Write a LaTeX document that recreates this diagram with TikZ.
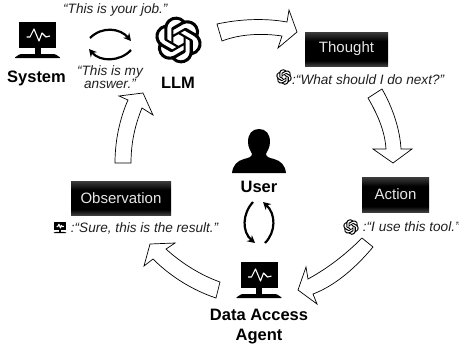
\documentclass[tikz,border=0pt]{standalone}
\usepackage{fontspec}
\setmainfont{Liberation Sans}
\usetikzlibrary{svg.path,arrows.meta}
\definecolor{boxedge}{gray}{0.24}
\definecolor{boxtext}{gray}{0.9}
\definecolor{saytext}{gray}{0.12}
\pgfdeclareverticalshading{boxshade}{100bp}{color(0bp)=(boxedge); color(25bp)=(boxedge); color(33bp)=(black); color(62bp)=(black); color(75bp)=(boxedge); color(100bp)=(boxedge)}
\newcommand{\logopath}{M22.2819 9.8211a5.9847 5.9847 0 0 0-.5157-4.9108 6.0462 6.0462 0 0 0-6.5098-2.9A6.0651 6.0651 0 0 0 4.9807 4.1818a5.9847 5.9847 0 0 0-3.9977 2.9 6.0462 6.0462 0 0 0 .7427 7.0966 5.98 5.98 0 0 0 .511 4.9107 6.051 6.051 0 0 0 6.5146 2.9001A5.9847 5.9847 0 0 0 13.2599 24a6.0557 6.0557 0 0 0 5.7718-4.2058 5.9894 5.9894 0 0 0 3.9977-2.9001 6.0557 6.0557 0 0 0-.7475-7.0729z M13.2599 22.4292a4.4755 4.4755 0 0 1-2.8764-1.0408l.1419-.0804 4.7783-2.7582a.7948.7948 0 0 0 .3927-.6813v-6.7369l2.02 1.1686a.071.071 0 0 1 .038.052v5.5826a4.504 4.504 0 0 1-4.4945 4.4944z M3.5992 18.3038a4.4708 4.4708 0 0 1-.5346-3.0137l.142.0852 4.783 2.7582a.7712.7712 0 0 0 .7806 0l5.8428-3.3685v2.3324a.0804.0804 0 0 1-.0332.0615L9.74 19.9502a4.4992 4.4992 0 0 1-6.1408-1.6464z M2.3408 7.8956a4.485 4.485 0 0 1 2.3655-1.9728V11.6a.7664.7664 0 0 0 .3879.6765l5.8144 3.3543-2.0201 1.1685a.0757.0757 0 0 1-.071 0l-4.8303-2.7865A4.504 4.504 0 0 1 2.3408 7.872z M18.9371 11.7514L13.1038 8.364 15.1192 7.2a.0757.0757 0 0 1 .071 0l4.8303 2.7913a4.4944 4.4944 0 0 1-.6765 8.1042v-5.6772a.79.79 0 0 0-.407-.667z M20.9478 8.7283l-.142-.0852-4.7735-2.7818a.7759.7759 0 0 0-.7854 0L9.409 9.2297V6.8974a.0662.0662 0 0 1 .0284-.0615l4.8303-2.7866a4.4992 4.4992 0 0 1 6.6802 4.66z M8.3065 12.863l-2.02-1.1638a.0804.0804 0 0 1-.038-.0567V6.0742a4.4992 4.4992 0 0 1 7.3757-3.4537l-.142.0805L8.704 5.459a.7948.7948 0 0 0-.3927.6813z M9.4041 10.4976l2.602-1.4998 2.6069 1.4998v2.9994l-2.5974 1.4997-2.6067-1.4997Z}
\newcommand{\drawlogo}[2]{%
  \begin{scope}[shift={#1},scale=#2,yscale=-1,shift={(-12pt,-12pt)}]
  \edef\logocmd{\noexpand\fill[black,even odd rule] svg {\logopath};}\logocmd
  \end{scope}}
\tikzset{
  x=1pt,y=-1pt,
  monitor/.pic={
    \fill[black] (-18.5,-18) rectangle (18.5,8);
    \fill[black] (-3,8) rectangle (3,15);
    \fill[black,rounded corners=1.2] (-23.5,18) -- (-17.5,14) -- (17.5,14) -- (23.5,18) -- cycle;
    \draw[white,line width=1.1,line join=round] (-11,-3) -- (-7.5,-3) -- (-3.5,-11) -- (1.5,1) -- (4.5,-7) -- (8.5,-3) -- (12.5,-4);
  },
  stagebox/.style={shading=boxshade,text=boxtext,font=\fontsize{15}{18}\selectfont,inner sep=0pt,anchor=center},
  heading/.style={font=\fontsize{16.5}{20}\selectfont\bfseries,inner sep=0pt,anchor=base},
  say/.style={font=\fontsize{13.6}{13}\selectfont\itshape,text=saytext,inner sep=0pt,anchor=base west},
  bigarrow/.style={draw=black,fill=white,line width=0.7,line join=miter},
  turnarrow/.style={draw=black,line width=2.2,-{Stealth[length=7.5,width=8]}},
}
\begin{document}
\begin{tikzpicture}
\useasboundingbox (0,0) rectangle (459,349);
% block arrows
\path[bigarrow] (217,24) .. controls (240,19) and (265,18) .. (287,22) -- (289,10) -- (297,32) -- (278,48) -- (282,36) .. controls (262,33) and (240,34) .. (222,41) -- cycle;
\path[bigarrow] (368,98) .. controls (378,115) and (385,132) .. (386,149) -- (373,149) -- (393,163) -- (412,149) -- (401,149) .. controls (400,130) and (393,108) .. (382,89) -- cycle;
\path[bigarrow] (362,238) .. controls (345,255) and (328,268) .. (308,279) -- (306,267) -- (298,290) -- (317,304) -- (313,294) .. controls (337,285) and (358,265) .. (373,247) -- cycle;
\path[bigarrow] (220,282) .. controls (200,275) and (180,262) .. (166,249) -- (175,243) -- (150,244) -- (144,266) -- (153,259) .. controls (170,276) and (192,290) .. (216,298) -- cycle;
\path[bigarrow] (115,163) .. controls (115,140) and (120,118) .. (128,100) -- (119,96) -- (143,93) -- (153,115) -- (142,108) .. controls (135,125) and (131,143) .. (131,163) -- cycle;
% icons
\pic at (37.5,40) {monitor};
\pic at (259,280) {monitor};
\pic[scale=0.31] at (60,227.6) {monitor};
\drawlogo{(178.5,40)}{1.95}
\drawlogo{(284,77)}{0.65}
\drawlogo{(351,227)}{0.65}
\fill[black] (259,129) .. controls (266,129) and (270,134) .. (270,142) .. controls (270,148) and (267,151) .. (266,154) .. controls (266,157) and (270,158) .. (274,159) .. controls (281,161) and (285,165) .. (286,173) -- (232,173) .. controls (233,165) and (237,161) .. (244,159) .. controls (248,158) and (252,157) .. (252,154) .. controls (251,151) and (248,148) .. (248,142) .. controls (248,134) and (252,129) .. (259,129) -- cycle;
% turn arrows
\coordinate (sysA) at (90,38); \coordinate (llmA) at (131,41);
\coordinate (llmB) at (131,50); \coordinate (sysB) at (89,49);
\coordinate (userA) at (253,202); \coordinate (agentA) at (255,243);
\coordinate (agentB) at (265,243); \coordinate (userB) at (263,202);
\draw[turnarrow] (sysA) .. controls (102,26) and (120,28) .. (llmA);
\draw[turnarrow] (llmB) .. controls (120,62) and (100,62) .. (sysB);
\draw[turnarrow] (userA) .. controls (242,214) and (242,232) .. (agentA);
\draw[turnarrow] (agentB) .. controls (276,232) and (276,214) .. (userB);
% boxes
\node[stagebox,minimum width=83,minimum height=34] (thought) at (346.5,49) {Thought};
\node[stagebox,minimum width=67,minimum height=35] (action) at (395.5,194.5) {Action};
\node[stagebox,minimum width=100,minimum height=34] (observation) at (121,198) {Observation};
% labels
\node[heading] (system) at (36.5,82) {System};
\node[heading] (llm) at (178,88) {LLM};
\node[heading] (user) at (259,192) {User};
\node[heading] (dataaccess) at (259,320) {Data Access};
\node[heading] (agent) at (259,340) {Agent};
% speech
\node[say] (job) at (63,13) {“This is your job.”};
\node[say,anchor=base,align=center] (answer) at (110,88) {“This is my\\answer.”};
\node[say] (next) at (292,84) {:“What should I do next?”};
\node[say] (tool) at (362.7,231.7) {:“I use this tool.”};
\node[say] (result) at (70.7,232.7) {:“Sure, this is the result.”};
\end{tikzpicture}
\end{document}
